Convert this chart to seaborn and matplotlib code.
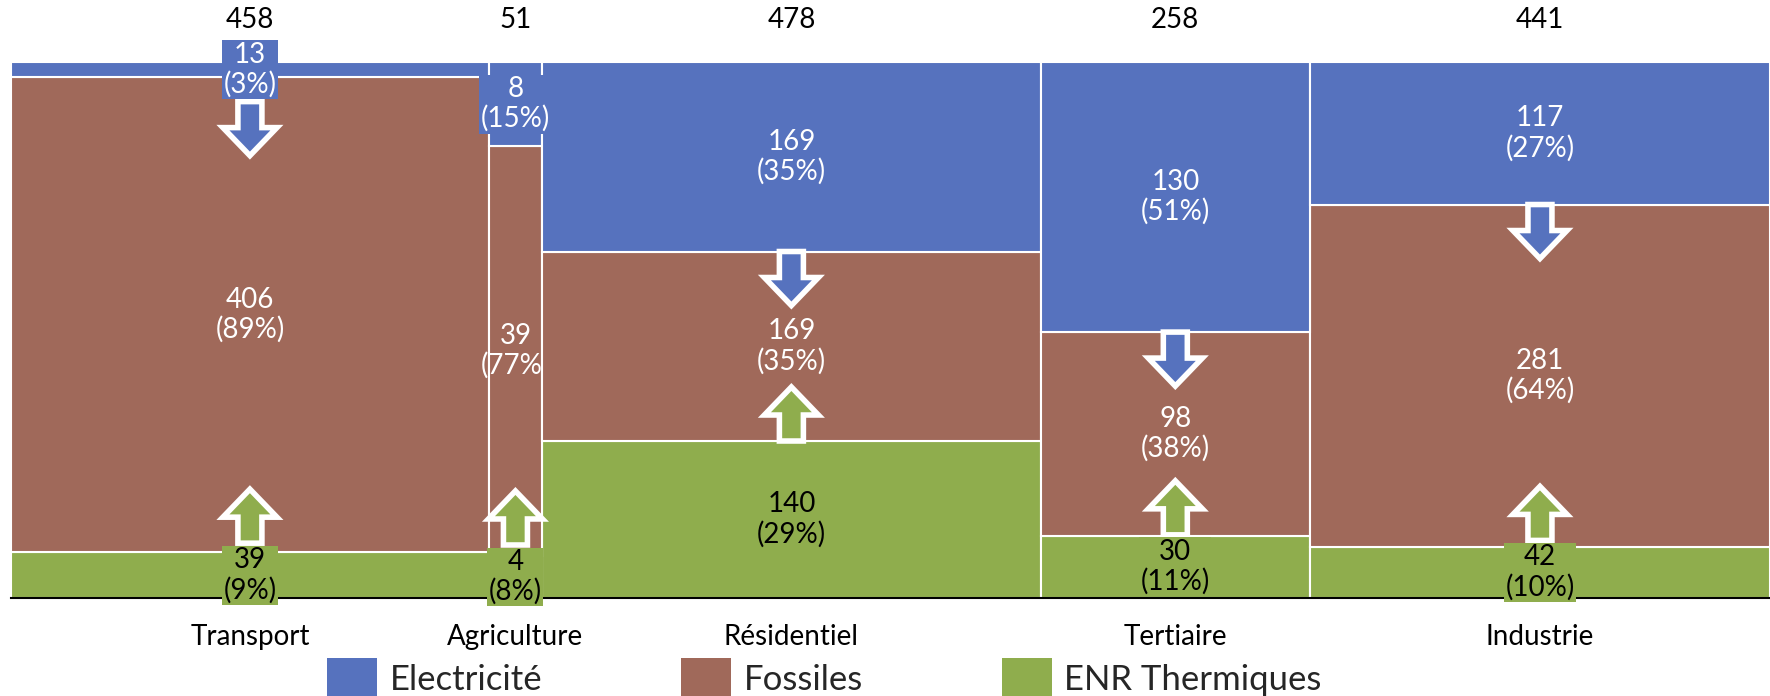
import numpy as np
import pandas as pd
import seaborn as sns
import matplotlib.pyplot as plt
from matplotlib import font_manager, transforms
from matplotlib.patches import Polygon, Patch

# data (TWh)
sectors = ['Transport', 'Agriculture', 'Résidentiel', 'Tertiaire', 'Industrie']
totals = [458, 51, 478, 258, 441]
sources = ['Electricité', 'Fossiles', 'ENR Thermiques']
electricite = [13, 8, 169, 130, 117]
fossiles = [406, 39, 169, 98, 281]
enr = [39, 4, 140, 30, 42]
pct_elec = [3, 15, 35, 51, 27]
pct_foss = [89, 77, 35, 38, 64]
pct_enr = [9, 8, 29, 11, 10]
down_arrow = [True, False, True, True, True]
up_arrow = [True, True, True, True, True]

colors = {'Electricité': '#5672BE', 'Fossiles': '#A0695A', 'ENR Thermiques': '#8FAD4D'}
text_colors = {'Electricité': 'white', 'Fossiles': 'white', 'ENR Thermiques': 'black'}

sns.set_theme(style='white')
names = {f.name for f in font_manager.fontManager.ttflist}
base = next(f for f in ['Lato', 'Liberation Sans', 'DejaVu Sans'] if f in names)
plt.rcParams['font.family'] = [base, 'DejaVu Sans']

edges = [0] + list(np.cumsum(totals).astype(float))
centers = [(a + b) / 2 for a, b in zip(edges[:-1], edges[1:])]

rows = []
for i, s in enumerate(sectors):
    for src, vals in zip(sources, [electricite, fossiles, enr]):
        rows.append({'sector': s, 'source': src, 'x': centers[i], 'value': vals[i]})
df = pd.DataFrame(rows)

W, H = 1770, 696
fig = plt.figure(figsize=(W / 100, H / 100), dpi=100)
ax = fig.add_axes([11 / W, 1 - 598 / H, 1 - 11 / W, 536 / H])

# marimekko: variable width bins, each column filled to 100%
sns.histplot(data=df, x='x', weights='value', hue='source', hue_order=sources,
             bins=edges, multiple='fill', palette=colors, edgecolor='white',
             linewidth=1.5, alpha=1, legend=False, ax=ax)

ax.set_xlim(edges[0], edges[-1])
ax.set_ylim(0, 1)
ax.set_xlabel('')
ax.set_ylabel('')
ax.set_yticks([])
ax.set_xticks(centers, sectors, fontsize=20, color='black')
ax.tick_params(axis='x', length=0, pad=19)
sns.despine(ax=ax, left=True)
ax.spines['bottom'].set_color('black')
ax.spines['bottom'].set_linewidth(1.5)

px_h = 536
box_half = 32
stack = [('ENR Thermiques', enr, pct_enr), ('Fossiles', fossiles, pct_foss),
         ('Electricité', electricite, pct_elec)]

# arrow shape in pixels, anchored at the base of the shaft
down_shape = np.array([(-12, 0), (12, 0), (12, -26), (27, -26), (0, -54),
                       (-27, -26), (-12, -26)], dtype=float)
up_shape = down_shape * np.array([1, -1])


def add_arrow(x, y, shape, shift, color):
    trans = fig.dpi_scale_trans + transforms.ScaledTranslation(x, y, ax.transData)
    verts = (shape + np.array([0, shift])) / 100
    p = Polygon(verts, closed=True, transform=trans, facecolor=color,
                edgecolor='white', linewidth=4, joinstyle='miter', zorder=4,
                clip_on=False)
    ax.add_patch(p)


for i in range(len(sectors)):
    col_sum = electricite[i] + fossiles[i] + enr[i]
    bottom = 0
    for src, vals, pcts in stack:
        frac = vals[i] / col_sum
        t = ax.text(centers[i], bottom + frac / 2, f'{vals[i]}\n({pcts[i]}%)',
                    ha='center', va='center', fontsize=20, color=text_colors[src],
                    linespacing=1.15, zorder=5)
        if src == 'Fossiles':
            # fossil labels are cut at the right edge of their column
            clip = transforms.Bbox([[edges[0] - 1000, -1], [edges[i + 1], 2]])
            t.set_clip_box(transforms.TransformedBbox(clip, ax.transData))
            t.set_clip_on(True)
        else:
            t.set_bbox(dict(facecolor=colors[src], edgecolor='none', pad=1))
        bottom += frac

    ax.annotate(str(totals[i]), xy=(centers[i], 1), xycoords=('data', 'axes fraction'),
                xytext=(0, 30), textcoords='offset points', ha='center', va='center',
                fontsize=20, color='black', annotation_clip=False)

    elec_frac = electricite[i] / col_sum
    enr_frac = enr[i] / col_sum
    if down_arrow[i]:
        shift = -max(0, box_half - elec_frac * px_h / 2)
        add_arrow(centers[i], 1 - elec_frac, down_shape, shift, colors['Electricité'])
    if up_arrow[i]:
        shift = max(0, box_half - enr_frac * px_h / 2)
        add_arrow(centers[i], enr_frac, up_shape, shift, colors['ENR Thermiques'])

ax.set_xlim(edges[0], edges[-1])
ax.set_ylim(0, 1)

handles = [Patch(facecolor=colors[s], edgecolor='none', label=s) for s in sources]
fig.legend(handles=handles, loc='upper left', bbox_to_anchor=(327 / W, 1 - 658 / H),
           ncol=3, frameon=False, fontsize=25, handlelength=1.45, handleheight=1.45,
           handletextpad=0.35, columnspacing=4.0, borderpad=0, borderaxespad=0)

fig.savefig('out.png', dpi=100)
